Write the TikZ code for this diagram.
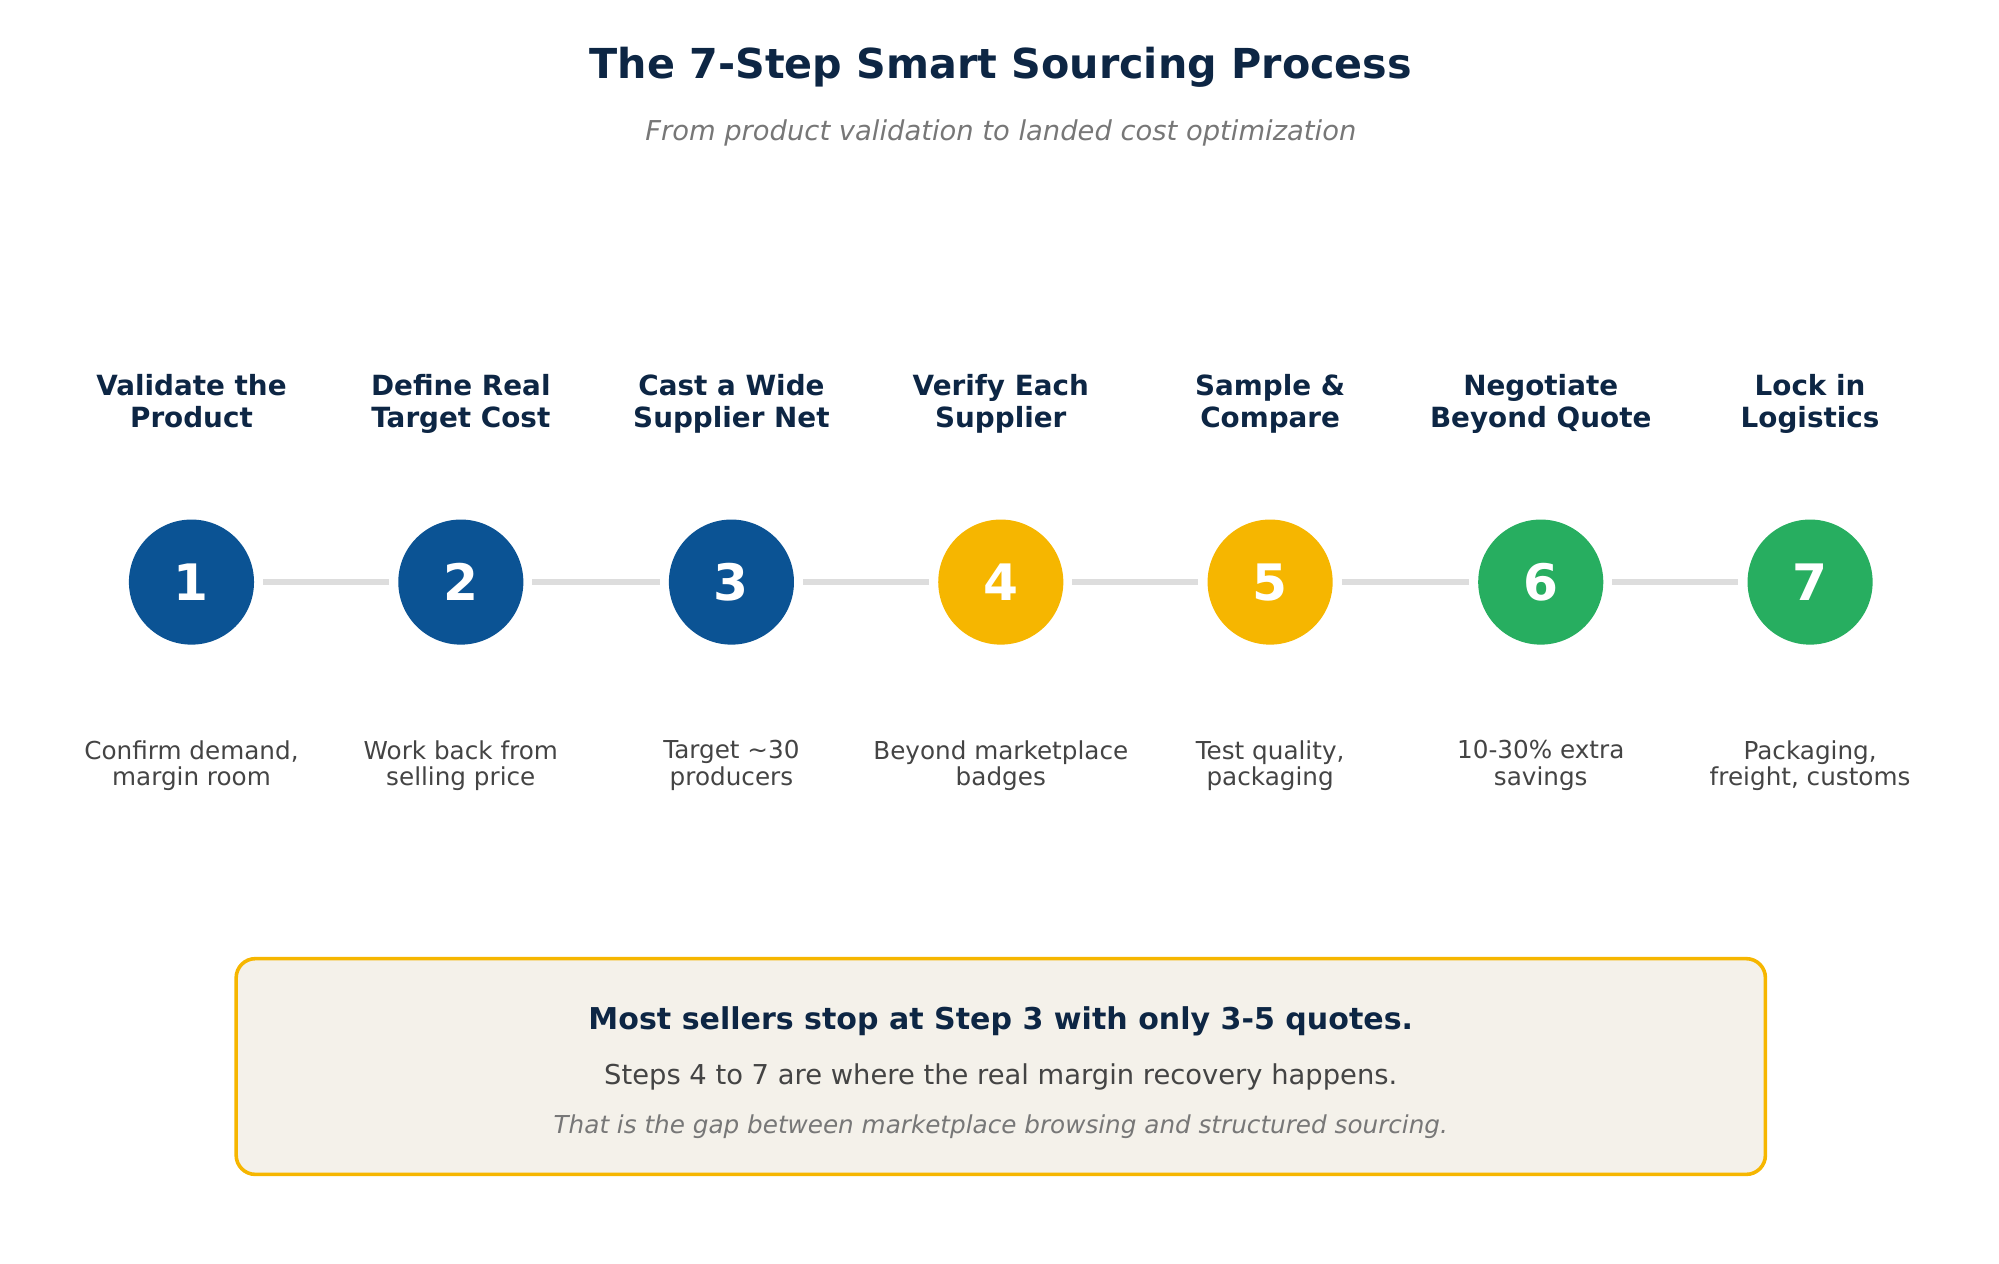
\documentclass[tikz,border=0pt]{standalone}
\usepackage{fontspec}
\setmainfont{DejaVu Sans}
\definecolor{navy}{HTML}{0D2644}
\definecolor{cblue}{HTML}{0B5394}
\definecolor{cyel}{HTML}{F6B600}
\definecolor{cgreen}{HTML}{27AE60}
\definecolor{lgray}{HTML}{DDDDDD}
\definecolor{dtext}{HTML}{444444}
\definecolor{stext}{HTML}{777777}
\definecolor{boxfill}{HTML}{F4F1EA}
\begin{document}
\begin{tikzpicture}[x=0.05cm,y=-0.05cm,
  circ/.style={circle,minimum size=98*0.05cm,inner sep=0,text=white,font=\fontsize{56}{56}\selectfont\bfseries},
  ttl/.style={align=center,text=navy,font=\fontsize{31}{35.5}\selectfont\bfseries},
  desc/.style={align=center,text=dtext,font=\fontsize{27.5}{30}\selectfont},
  conn/.style={lgray,line width=7pt}]
\useasboundingbox (0,0) rectangle (1566,990);
\node[text=navy,font=\fontsize{46}{46}\selectfont\bfseries] (title) at (784,53) {The 7-Step Smart Sourcing Process};
\node[text=stext,font=\fontsize{30.5}{30.5}\selectfont\itshape] (sub) at (784,104) {From product validation to landed cost optimization};
\foreach \i/\x/\c/\t/\d in {
 1/150/cblue/{Validate the\\Product}/{Confirm demand,\\margin room},
 2/361/cblue/{Define Real\\Target Cost}/{Work back from\\selling price},
 3/573/cblue/{Cast a Wide\\Supplier Net}/{Target \char"223C 30\\producers},
 4/784/cyel/{Verify Each\\Supplier}/{Beyond marketplace\\badges},
 5/995/cyel/{Sample \&\\Compare}/{Test quality,\\packaging},
 6/1207/cgreen/{Negotiate\\Beyond Quote}/{10-30\% extra\\savings},
 7/1418/cgreen/{Lock in\\Logistics}/{Packaging,\\freight, customs}}{
 \node[circ,fill=\c] (c\i) at (\x,456) {\i};
 \node[ttl] (t\i) at (\x,318) {\t\strut};
 \node[desc] (d\i) at (\x,601) {\d\strut};
}
\foreach \a/\b in {1/2,2/3,3/4,4/5,5/6,6/7}{
 \draw[conn] ([xshift=0.35cm]c\a.east) -- ([xshift=-0.35cm]c\b.west);
}
\draw[cyel,line width=4pt,fill=boxfill,rounded corners=0.75cm] (185,751) rectangle (1383,920);
\node[text=navy,font=\fontsize{33.5}{33.5}\selectfont\bfseries] (b1) at (784,800) {Most sellers stop at Step 3 with only 3-5 quotes.};
\node[text=dtext,font=\fontsize{30.5}{30.5}\selectfont] (b2) at (784,844) {Steps 4 to 7 are where the real margin recovery happens.};
\node[text=stext,font=\fontsize{27.5}{27.5}\selectfont\itshape] (b3) at (784,883) {That is the gap between marketplace browsing and structured sourcing.};
\end{tikzpicture}
\end{document}
